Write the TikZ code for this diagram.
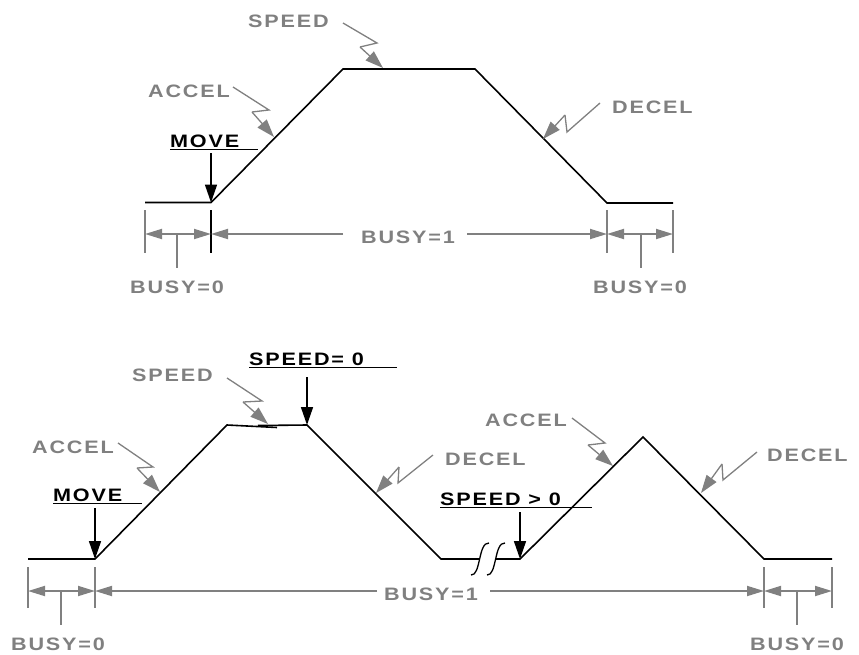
\documentclass[tikz,border=0pt]{standalone}
\usepackage{fontspec}
\setmainfont{Liberation Sans}
\newfontfamily\labfont{Liberation Sans Bold}[FakeStretch=1.2, LetterSpace=10]
\usetikzlibrary{arrows.meta}
\definecolor{gry}{RGB}{128,128,128}
\tikzset{
  prof/.style={line width=1.6pt, black, line join=miter},
  lbl/.style={inner sep=0pt, anchor=base west, text=gry, font=\labfont\fontsize{18}{20}\selectfont},
  blbl/.style={inner sep=0pt, anchor=base west, text=black, font=\labfont\fontsize{18}{20}\selectfont},
  clbl/.style={inner sep=0pt, anchor=base, text=gry, font=\labfont\fontsize{18}{20}\selectfont},
  zigl/.style={gry, line width=1.3pt},
  zig/.style={gry, line width=1.3pt, -{Triangle[length=18pt,width=12pt]}},
  dimln/.style={gry, line width=1.8pt},
  dimar/.style={gry, line width=1.8pt, -{Triangle[length=17pt,width=10pt]}},
  marker/.style={black, line width=1.6pt, -{Triangle[length=18pt,width=12pt]}},
  uline/.style={black, line width=1.6pt},
}
\begin{document}
\begin{tikzpicture}[x=1pt,y=-1pt]
\useasboundingbox (0,0) rectangle (859,654);
%================ TOP =================
\coordinate (a1) at (145,202.5);
\coordinate (a2) at (211,202.5);
\coordinate (a3) at (343,69);
\coordinate (a4) at (475,69);
\coordinate (a5) at (607,203);
\coordinate (a6) at (673,203);
\draw[prof] (a1) -- (a2) -- (a3) -- (a4) -- (a5) -- (a6);
% MOVE
\node[blbl] (move1) at (170,147) {MOVE};
\coordinate (mu1a) at (170,149.5); \coordinate (mu1b) at (258,149.5);
\draw[uline] (mu1a) -- (mu1b);
\coordinate (ms1) at (211,153);
\draw[marker] (ms1) -- (a2);
% ACCEL
\node[lbl] (acc1) at (148,97) {ACCEL};
\draw[zigl] (233,87) -- (269,110) -- (252,112);
\draw[zig] (252,112) -- (274,137);
% SPEED
\node[lbl] (spd1) at (248,27) {SPEED};
\draw[zigl] (343,23) -- (377,43) -- (360,47);
\draw[zig] (360,47) -- (383,68);
% DECEL
\node[lbl] (dec1) at (612,113) {DECEL};
\draw[zigl] (600,103) -- (567,132) -- (565,115);
\draw[zig] (565,115) -- (543,139);
% dimensions
\draw[dimln] (145,210) -- (145,253);
\draw[black, line width=1.8pt] (211,210) -- (211,253);
\draw[dimln] (607,210) -- (607,253);
\draw[dimln] (673,210) -- (673,253);
\draw[dimln] (177,234) -- (177,268);
\draw[dimln] (641,234) -- (641,268);
\draw[dimar] (177,234) -- (145,234);
\draw[dimar] (177,234) -- (211,234);
\draw[dimar] (343,234) -- (211,234);
\draw[dimar] (467,234) -- (607,234);
\draw[dimar] (641,234) -- (607,234);
\draw[dimar] (641,234) -- (673,234);
\node[clbl] (b01) at (177,293) {BUSY=0};
\node[clbl] (b11) at (408,243) {BUSY=1};
\node[clbl] (b02) at (640,293) {BUSY=0};
%================ BOTTOM =================
\coordinate (q1) at (28,559);
\coordinate (q2) at (95,559);
\coordinate (q3) at (227,425);
\coordinate (q4) at (307,425);
\coordinate (q5) at (441,559);
\coordinate (q6) at (520,559);
\coordinate (q7) at (643,437);
\coordinate (q8) at (764,559);
\coordinate (q9) at (832,559);
\draw[prof] (q1) -- (q2) -- (q3) -- (277,427.5);
\draw[prof] (258,425.5) -- (q4) -- (q5) -- (479,559);
\draw[prof] (496,559) -- (q6) -- (q7) -- (q8) -- (q9);
% break marks
\draw[black, line width=1.3pt] (471,575) .. controls (481,576) and (478,542) .. (489,543);
\draw[black, line width=1.3pt] (487,575) .. controls (497,576) and (494,542) .. (505,543);
% MOVE
\node[blbl] (move2) at (53,501) {MOVE};
\draw[uline] (53,503.5) -- (142,503.5);
\draw[marker] (95,508) -- (q2);
% SPEED= 0
\node[blbl] (spz) at (249,365) {SPEED= 0};
\draw[uline] (249,367.5) -- (397,367.5);
\draw[marker] (307,377) -- (q4);
% SPEED > 0
\node[blbl] (spp) at (440,505) {SPEED > 0};
\draw[uline] (440,507.5) -- (592,507.5);
\draw[marker] (520,512) -- (q6);
% gray labels
\node[lbl] (spd2) at (132,381) {SPEED};
\draw[zigl] (227,378) -- (262,401) -- (243,402);
\draw[zig] (243,402) -- (268,424);
\node[lbl] (acc2) at (32,453) {ACCEL};
\draw[zigl] (118,443) -- (153,467) -- (137,468);
\draw[zig] (137,468) -- (160,492);
\node[lbl] (dec2) at (445,465) {DECEL};
\draw[zigl] (433,455) -- (398,483) -- (399,467);
\draw[zig] (399,467) -- (376,493);
\node[lbl] (acc3) at (485,426) {ACCEL};
\draw[zigl] (572,418) -- (605,443) -- (588,445);
\draw[zig] (588,445) -- (613,466);
\node[lbl] (dec3) at (767,461) {DECEL};
\draw[zigl] (757,452) -- (723,480) -- (722,464);
\draw[zig] (722,464) -- (701,493);
% dimensions
\draw[dimln] (28,567) -- (28,608);
\draw[dimln] (95,567) -- (95,608);
\draw[dimln] (764,567) -- (764,608);
\draw[dimln] (832,567) -- (832,608);
\draw[dimln] (61,591) -- (61,625);
\draw[dimln] (797,591) -- (797,625);
\draw[dimar] (61,591) -- (28,591);
\draw[dimar] (61,591) -- (95,591);
\draw[dimar] (377,591) -- (95,591);
\draw[dimar] (490,591) -- (764,591);
\draw[dimar] (797,591) -- (764,591);
\draw[dimar] (797,591) -- (832,591);
\node[clbl] (b03) at (58,650) {BUSY=0};
\node[clbl] (b12) at (431,600) {BUSY=1};
\node[clbl] (b04) at (797,650) {BUSY=0};
\end{tikzpicture}
\end{document}
